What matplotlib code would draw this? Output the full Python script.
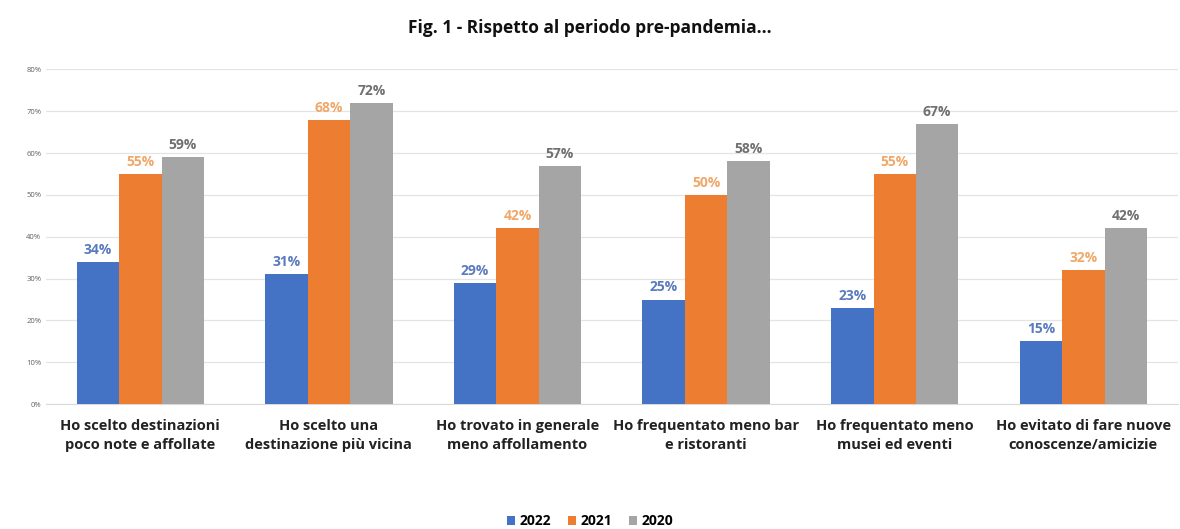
import matplotlib.pyplot as plt
import numpy as np

categories = [
    "Ho scelto destinazioni\npoco note e affollate",
    "Ho scelto una\ndestinazione più vicina",
    "Ho trovato in generale\nmeno affollamento",
    "Ho frequentato meno bar\ne ristoranti",
    "Ho frequentato meno\nmusei ed eventi",
    "Ho evitato di fare nuove\nconoscenze/amicizie",
]
series_names = ["2022", "2021", "2020"]
vals_2022 = [34, 31, 29, 25, 23, 15]
vals_2021 = [55, 68, 42, 50, 55, 32]
vals_2020 = [59, 72, 57, 58, 67, 42]

bar_colors = ["#4472C4", "#ED7D31", "#A5A5A5"]
label_colors = ["#5a7bbd", "#f0a86a", "#707070"]

plt.rcParams['font.family'] = ['Open Sans', 'DejaVu Sans']

fig = plt.figure(figsize=(11.8, 5.29), dpi=100)
ax = fig.add_axes([0.039, 0.236, 0.959, 0.633])

x = np.arange(len(categories))
w = 0.225
for i, (name, vals) in enumerate(zip(series_names, [vals_2022, vals_2021, vals_2020])):
    pos = x + (i - 1) * w
    ax.bar(pos, vals, width=w, color=bar_colors[i], label=name, zorder=3)
    for p, v in zip(pos, vals):
        ax.text(p, v + 1.2, f"{v}%", ha="center", va="bottom", fontsize=10,
                fontweight="bold", color=label_colors[i])

ax.set_ylim(0, 80)
ax.set_xlim(-0.5, len(categories) - 0.5)
ax.set_yticks(range(0, 81, 10))
ax.set_yticklabels([f"{t}%" for t in range(0, 81, 10)], fontsize=5.5, color="#606060")
ax.yaxis.grid(True, color="#e4e4e4", linewidth=0.9, zorder=0)
ax.set_xticks(x)
ax.set_xticklabels(categories, fontsize=10.5, fontweight="bold", color="#222222", linespacing=1.4)
ax.tick_params(axis="both", length=0)
ax.tick_params(axis="x", pad=11)
for s in ["top", "right", "left"]:
    ax.spines[s].set_visible(False)
ax.spines["bottom"].set_color("#d9d9d9")

fig.suptitle("Fig. 1 - Rispetto al periodo pre-pandemia...", y=0.965, fontsize=12.5,
             fontweight="bold", color="#111111")
fig.legend(loc="lower center", bbox_to_anchor=(0.5, -0.022), ncol=3, frameon=False,
           handlelength=0.6, handleheight=0.6, columnspacing=1.2,
           handletextpad=0.3, prop={"weight": "bold", "size": 10})

fig.savefig("out.png", dpi=100)
